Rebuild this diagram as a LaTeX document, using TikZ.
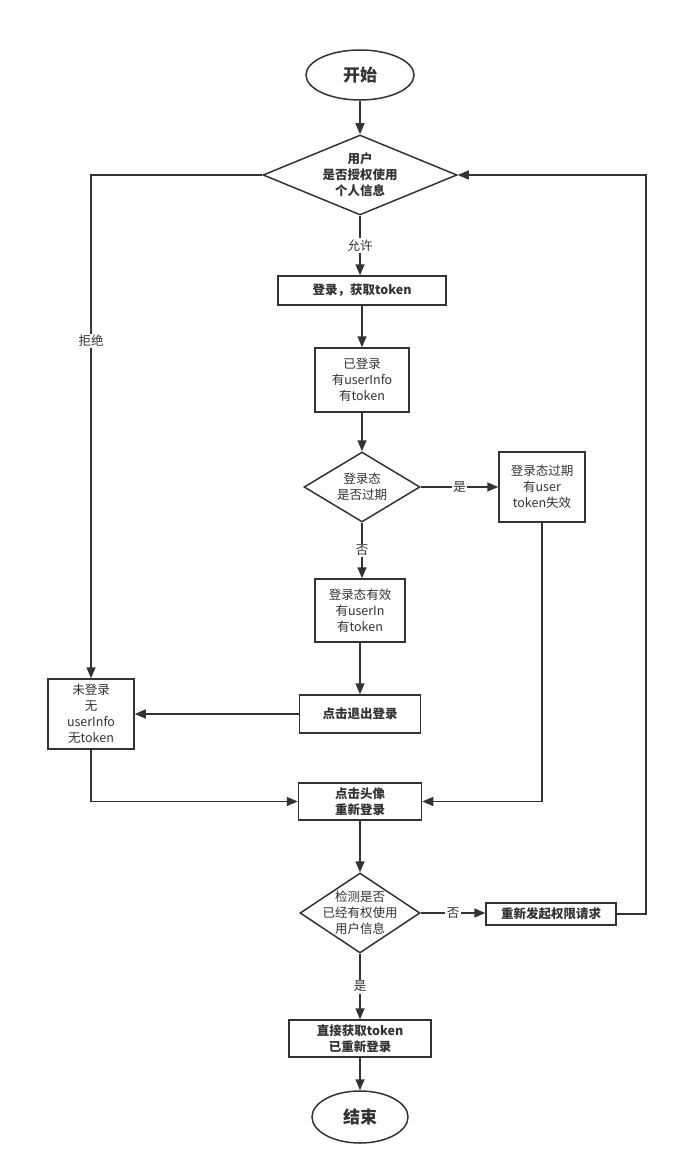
\documentclass[tikz,border=0pt]{standalone}
\usepackage{fontspec}
\setmainfont{Noto Sans CJK SC}
\usetikzlibrary{shapes.geometric,arrows.meta}
\definecolor{lc}{HTML}{333333}
\tikzset{
  every node/.style={text=lc},
  base/.style={draw=lc, line width=1.5pt, fill=white, inner sep=0pt},
  boxn/.style={base, rectangle, align=center, font=\fontsize{12.5}{16}\selectfont},
  boxb/.style={boxn, font=\fontsize{12.5}{16}\selectfont\bfseries},
  term/.style={base, ellipse, font=\fontsize{17}{20}\selectfont\bfseries},
  dia/.style={base, diamond},
  dtext/.style={align=center, inner sep=0pt, font=\fontsize{12.5}{16}\selectfont},
  conn/.style={draw=lc, line width=1.5pt, -{Triangle[length=11pt,width=9pt]}},
  lab/.style={fill=white, inner sep=1.5pt, font=\fontsize{12.5}{15}\selectfont},
}
\begin{document}
\begin{tikzpicture}[x=1pt,y=-1pt]
\useasboundingbox (0,0) rectangle (677,1174);
\fill[white] (0,0) rectangle (677,1174);

\node[term, minimum width=108pt, minimum height=50pt] (start) at (360,75) {开始};
\node[dia, minimum width=194pt, minimum height=80pt] (d1) at (360,175) {};
\node[dtext, font=\fontsize{12.5}{16}\selectfont\bfseries] (d1t) at (d1) {用户\\是否授权使用\\个人信息};
\node[boxb, minimum width=168pt, minimum height=29pt] (login) at (362,290.5) {登录，获取token};
\node[boxn, minimum width=94pt, minimum height=64pt] (logged) at (362,380) {已登录\\有userInfo\\有token};
\node[dia, minimum width=116pt, minimum height=70pt] (d2) at (362,487) {};
\node[dtext] (d2t) at (d2) {登录态\\是否过期};
\node[boxn, minimum width=86pt, minimum height=70pt] (expired) at (542,487) {登录态过期\\有user\\token失效};
\node[boxn, minimum width=90pt, minimum height=63pt] (valid) at (360,610.5) {登录态有效\\有userIn\\有token};
\node[boxb, minimum width=121pt, minimum height=38pt] (logout) at (360,714) {点击退出登录};
\node[boxn, minimum width=86pt, minimum height=70pt] (notlogged) at (91,714) {未登录\\无\\userInfo\\无token};
\node[boxb, minimum width=123pt, minimum height=37pt] (relogin) at (360,801.5) {点击头像\\重新登录};
\node[dia, minimum width=120pt, minimum height=80pt] (d3) at (360,913) {};
\node[dtext] (d3t) at (d3) {检测是否\\已经有权使用\\用户信息};
\node[boxb, minimum width=130pt, minimum height=22pt] (request) at (551,914) {重新发起权限请求};
\node[boxb, minimum width=142pt, minimum height=37pt] (direct) at (360,1038.5) {直接获取token\\已重新登录};
\node[term, minimum width=96pt, minimum height=52pt] (end) at (360,1117) {结束};
\coordinate (rc) at (646,175);

\draw[conn] (start.south) -- (start.south |- d1.north);
\draw[conn] (d1.south) -- node[lab] {允许} (d1.south |- login.north);
\draw[conn] (login.south) -- (logged.north);
\draw[conn] (logged.south) -- (d2.north);
\draw[conn] (d2.east) -- node[lab] {是} (expired.west);
\draw[conn] (d2.south) -- node[lab] {否} (d2.south |- valid.north);
\draw[conn] (valid.south) -- (logout.north);
\draw[conn] (logout.west) -- (notlogged.east);
\draw[conn] (d1.west) -| node[lab, pos=0.665] {拒绝} (notlogged.north);
\draw[conn] (notlogged.south) |- (relogin.west);
\draw[conn] (expired.south) |- (relogin.east);
\draw[conn] (relogin.south) -- (d3.north);
\draw[conn] (d3.east) -- node[lab] {否} (d3.east -| request.west);
\draw[conn] (request.east) -| (rc) -- (d1.east);
\draw[conn] (d3.south) -- node[lab] {是} (direct.north);
\draw[conn] (direct.south) -- (end.north);
\end{tikzpicture}
\end{document}
